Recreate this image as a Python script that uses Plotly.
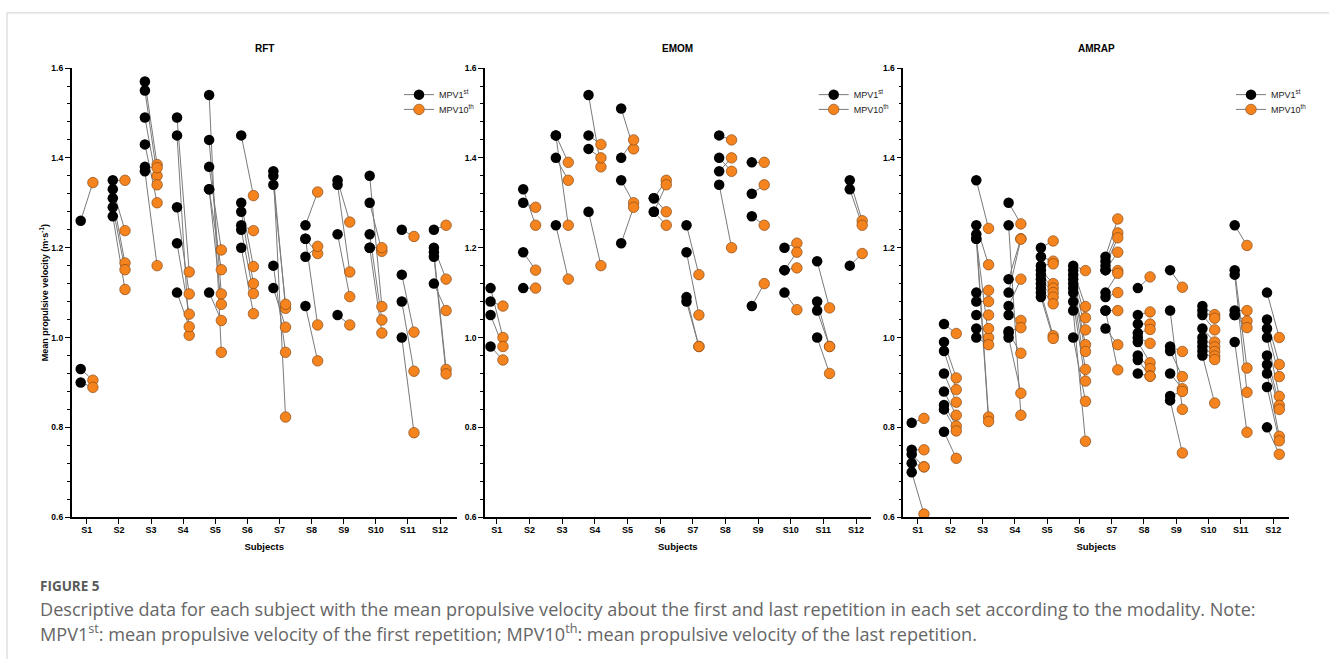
import plotly.graph_objects as go

subjects = ["S1", "S2", "S3", "S4", "S5", "S6", "S7", "S8", "S9", "S10", "S11", "S12"]
panel_titles = ["RFT", "EMOM", "AMRAP"]

# Mean propulsive velocity (m/s) of first repetition (MPV1st) and last repetition (MPV10th), paired per set
rft_first = [
    [1.26, 0.93, 0.90],
    [1.35, 1.33, 1.31, 1.29, 1.27],
    [1.57, 1.55, 1.49, 1.43, 1.38, 1.37],
    [1.49, 1.45, 1.29, 1.21, 1.10],
    [1.54, 1.44, 1.38, 1.33, 1.33, 1.10],
    [1.45, 1.30, 1.28, 1.25, 1.24, 1.20],
    [1.37, 1.36, 1.34, 1.16, 1.11],
    [1.25, 1.22, 1.22, 1.18, 1.07],
    [1.35, 1.34, 1.23, 1.05],
    [1.36, 1.30, 1.23, 1.20, 1.20],
    [1.24, 1.14, 1.08, 1.00],
    [1.24, 1.20, 1.19, 1.18, 1.12],
]
rft_last = [
    [1.345, 0.905, 0.889],
    [1.35, 1.238, 1.166, 1.151, 1.107],
    [1.385, 1.36, 1.34, 1.30, 1.378, 1.16],
    [1.146, 1.005, 1.097, 1.052, 1.024],
    [0.967, 1.097, 1.195, 1.151, 1.074, 1.038],
    [1.316, 1.158, 1.12, 1.238, 1.098, 1.053],
    [0.823, 1.065, 1.074, 0.967, 1.023],
    [1.324, 1.187, 1.028, 1.203, 0.948],
    [1.257, 1.146, 1.091, 1.028],
    [1.069, 1.192, 1.039, 1.20, 1.010],
    [1.225, 1.012, 0.925, 0.788],
    [1.25, 1.13, 0.929, 0.919, 1.06],
]

emom_first = [
    [1.11, 1.08, 1.05, 0.98],
    [1.33, 1.30, 1.19, 1.11],
    [1.45, 1.45, 1.40, 1.25],
    [1.54, 1.45, 1.42, 1.28],
    [1.51, 1.40, 1.35, 1.21],
    [1.31, 1.31, 1.28, 1.28],
    [1.25, 1.19, 1.09, 1.08],
    [1.45, 1.40, 1.37, 1.34],
    [1.39, 1.32, 1.27, 1.07],
    [1.20, 1.15, 1.15, 1.10],
    [1.17, 1.08, 1.06, 1.00],
    [1.35, 1.33, 1.16],
]
emom_last = [
    [1.00, 1.07, 0.98, 0.95],
    [1.25, 1.29, 1.15, 1.11],
    [1.39, 1.25, 1.35, 1.13],
    [1.38, 1.43, 1.40, 1.16],
    [1.42, 1.44, 1.30, 1.29],
    [1.35, 1.28, 1.34, 1.25],
    [1.14, 1.05, 0.98, 0.98],
    [1.44, 1.37, 1.40, 1.20],
    [1.39, 1.34, 1.25, 1.12],
    [1.21, 1.19, 1.155, 1.062],
    [1.066, 0.98, 0.98, 0.92],
    [1.26, 1.25, 1.187],
]

amrap_first = [
    [0.81, 0.75, 0.74, 0.72, 0.70],
    [1.03, 0.99, 0.97, 0.92, 0.88, 0.85, 0.84, 0.79],
    [1.35, 1.25, 1.23, 1.22, 1.22, 1.10, 1.08, 1.05, 1.02, 1.00],
    [1.30, 1.25, 1.13, 1.10, 1.07, 1.05, 1.014, 1.01, 1.00],
    [1.20, 1.18, 1.16, 1.15, 1.14, 1.13, 1.12, 1.11, 1.10, 1.09],
    [1.16, 1.15, 1.14, 1.13, 1.12, 1.11, 1.10, 1.08, 1.06, 1.00],
    [1.18, 1.17, 1.16, 1.15, 1.15, 1.10, 1.09, 1.06, 1.06, 1.02],
    [1.11, 1.05, 1.03, 1.01, 1.00, 0.99, 0.96, 0.95, 0.92],
    [1.15, 1.06, 0.98, 0.97, 0.92, 0.87, 0.86],
    [1.07, 1.06, 1.05, 1.02, 1.00, 0.99, 0.98, 0.97, 0.96],
    [1.25, 1.15, 1.14, 1.06, 1.05, 1.05, 0.99],
    [1.10, 1.04, 1.02, 1.00, 0.96, 0.94, 0.92, 0.89, 0.80],
]
amrap_last = [
    [0.82, 0.75, 0.712, 0.712, 0.607],
    [1.009, 0.91, 0.884, 0.856, 0.827, 0.803, 0.792, 0.731],
    [1.243, 1.162, 0.823, 0.813, 1.0, 1.105, 1.08, 1.05, 1.02, 0.984],
    [1.253, 0.827, 1.22, 1.219, 1.13, 1.038, 1.022, 0.965, 0.876],
    [1.215, 1.17, 1.164, 1.12, 1.11, 1.10, 1.09, 1.075, 1.004, 0.998],
    [1.149, 1.069, 1.044, 1.017, 0.984, 0.969, 0.929, 0.903, 0.769, 0.858],
    [1.264, 1.233, 1.222, 1.19, 1.149, 1.143, 1.10, 1.06, 0.928, 0.984],
    [1.135, 1.057, 1.03, 1.018, 0.987, 0.944, 0.931, 0.914, 0.914],
    [1.112, 0.84, 0.969, 0.913, 0.886, 0.88, 0.743],
    [1.051, 1.043, 1.017, 0.99, 0.979, 0.969, 0.959, 0.951, 0.854],
    [1.205, 0.932, 0.878, 1.06, 1.037, 1.022, 0.789],
    [1.0, 0.94, 0.913, 0.869, 0.849, 0.84, 0.78, 0.77, 0.74],
]

panels = [(rft_first, rft_last), (emom_first, emom_last), (amrap_first, amrap_last)]

W, H = 1329, 664
FONT = "Liberation Sans, Arial, sans-serif"
BLACK = "#000000"
ORANGE = "#F5841F"
ORANGE_EDGE = "#8a4a16"
LINE = "#7a7a7a"
OFF = 0.19
MS = 10.5

x_px = [(71.7, 456.7), (485.0, 870.7), (903.3, 1289.3)]
x_ranges = [[0.53, 12.52], [0.64, 12.45], [0.55, 12.5]]
y_dom = [1 - 520 / H, 1 - 64 / H]
legend_marker_x = [418, 832.7, 1250]

fig = go.Figure()

for p, (first, last) in enumerate(panels):
    xa = "x" if p == 0 else f"x{p+1}"
    ya = "y" if p == 0 else f"y{p+1}"
    lx, ly, bx, by, ox, oy = [], [], [], [], [], []
    for i, (fs, ls) in enumerate(zip(first, last)):
        pos = i + 1
        for f, l in zip(fs, ls):
            lx += [pos - OFF, pos + OFF, None]
            ly += [f, l, None]
            bx.append(pos - OFF)
            by.append(f)
            ox.append(pos + OFF)
            oy.append(l)
    fig.add_trace(go.Scatter(x=lx, y=ly, mode="lines", line=dict(color=LINE, width=1),
                             xaxis=xa, yaxis=ya, showlegend=False, hoverinfo="skip"))
    fig.add_trace(go.Scatter(x=bx, y=by, mode="markers",
                             marker=dict(color=BLACK, size=MS, line=dict(width=0)),
                             xaxis=xa, yaxis=ya, showlegend=False))
    fig.add_trace(go.Scatter(x=ox, y=oy, mode="markers",
                             marker=dict(color=ORANGE, size=MS, line=dict(color=ORANGE_EDGE, width=0.7)),
                             xaxis=xa, yaxis=ya, showlegend=False))
    leg1 = f"legend{2*p+1}" if p > 0 else "legend"
    leg2 = f"legend{2*p+2}"
    fig.add_trace(go.Scatter(x=[None], y=[None], mode="lines+markers", name="MPV1<sup>st</sup>",
                             line=dict(color=LINE, width=1),
                             marker=dict(color=BLACK, size=MS),
                             xaxis=xa, yaxis=ya, legend=leg1, showlegend=True))
    fig.add_trace(go.Scatter(x=[None], y=[None], mode="lines+markers", name="MPV10<sup>th</sup>",
                             line=dict(color=LINE, width=1),
                             marker=dict(color=ORANGE, size=MS, line=dict(color=ORANGE_EDGE, width=0.7)),
                             xaxis=xa, yaxis=ya, legend=leg2, showlegend=True))

layout = dict(
    width=W, height=H,
    margin=dict(l=0, r=0, t=0, b=0),
    paper_bgcolor="white", plot_bgcolor="white",
    font=dict(family=FONT, color="#000", size=9),
    showlegend=True,
)

for p in range(3):
    sx = "" if p == 0 else str(p + 1)
    x0, x1 = x_px[p]
    layout["xaxis" + sx] = dict(
        domain=[x0 / W, x1 / W], range=x_ranges[p], anchor="y" + sx,
        tickmode="array", tickvals=list(range(1, 13)), ticktext=subjects,
        ticks="outside", ticklen=5, tickwidth=1.3, tickcolor="#000",
        ticklabelstandoff=-2,
        showline=True, linecolor="#000", linewidth=1.6,
        showgrid=False, zeroline=False,
        tickfont=dict(size=9, family=FONT, weight="bold"),
        title=dict(text="Subjects", font=dict(size=9.5, family=FONT, weight="bold"), standoff=10),
        fixedrange=True,
    )
    layout["yaxis" + sx] = dict(
        domain=y_dom, range=[0.6, 1.6], anchor="x" + sx,
        tickmode="linear", tick0=0.6, dtick=0.2, tickformat=".1f",
        ticks="outside", ticklen=5, tickwidth=1.3, tickcolor="#000",
        minor=dict(tickmode="linear", dtick=0.04, tick0=0.6, ticks="outside",
                   ticklen=3, tickwidth=1, tickcolor="#000"),
        showline=True, linecolor="#000", linewidth=1.6,
        showgrid=False, zeroline=False,
        tickfont=dict(size=8.5, family=FONT, weight="bold"),
        fixedrange=True,
    )
    if p == 0:
        layout["yaxis"]["title"] = dict(text="Mean propulsive velocity (m·s<sup>-1</sup>)",
                                        font=dict(size=9, family=FONT, weight="bold"), standoff=1)
    leg1 = f"legend{2*p+1}" if p > 0 else "legend"
    leg2 = f"legend{2*p+2}"
    for leg, ypx in ((leg1, 91), (leg2, 106)):
        layout[leg] = dict(
            x=(legend_marker_x[p] - 19) / W, y=1 - ypx / H, xanchor="left", yanchor="middle",
            bgcolor="rgba(0,0,0,0)", font=dict(size=9, family=FONT, color="#222"),
            itemwidth=30, tracegroupgap=0,
        )

annotations = []
for p in range(3):
    x0, x1 = x_px[p]
    annotations.append(dict(text=f"<b>{panel_titles[p]}</b>", x=(x0 + x1) / 2 / W, y=1 - 44 / H,
                            xref="paper", yref="paper", showarrow=False,
                            font=dict(size=10, family=FONT, color="#000"), xanchor="center", yanchor="middle"))

CAP = "Open Sans, Liberation Sans, sans-serif"
annotations.append(dict(text="FIGURE 5", x=38 / W, y=1 - 590 / H, xref="paper", yref="paper",
                        showarrow=False, xanchor="left", yanchor="middle",
                        font=dict(size=13.5, family=CAP, color="#5a5a5a", weight=700)))
annotations.append(dict(
    text="Descriptive data for each subject with the mean propulsive velocity about the first and last repetition in each set according to the modality. Note:",
    x=38 / W, y=1 - 613 / H, xref="paper", yref="paper", showarrow=False, xanchor="left", yanchor="middle",
    font=dict(size=18.1, family=CAP, color="#666666")))
annotations.append(dict(
    text="MPV1<sup>st</sup>: mean propulsive velocity of the first repetition; MPV10<sup>th</sup>: mean propulsive velocity of the last repetition.",
    x=38 / W, y=1 - 637 / H, xref="paper", yref="paper", showarrow=False, xanchor="left", yanchor="middle",
    font=dict(size=18.1, family=CAP, color="#666666")))
layout["annotations"] = annotations

layout["shapes"] = [
    dict(type="line", xref="paper", yref="paper", x0=7 / W, x1=1, y0=1 - 8 / H, y1=1 - 8 / H,
         line=dict(color="#d0d0d0", width=1)),
    dict(type="line", xref="paper", yref="paper", x0=7 / W, x1=7 / W, y0=0, y1=1 - 8 / H,
         line=dict(color="#d0d0d0", width=1)),
]

fig.update_layout(**layout)
fig.write_html(
    "out.html",
    config={"displayModeBar": False},
    post_script="document.body.style.margin='0';document.body.style.padding='0';document.documentElement.style.overflow='hidden';",
)
